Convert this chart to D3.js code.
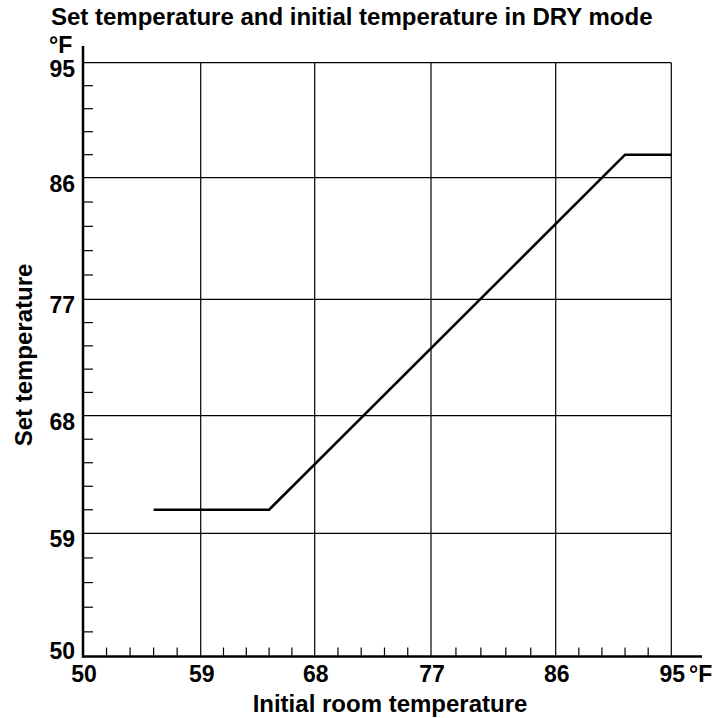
<!DOCTYPE html>
<html>
<head>
<meta charset="utf-8">
<script src="https://cdn.jsdelivr.net/npm/d3@7"></script>
<style>
  body { margin: 0; background: #fff; }
  text { font-family: "Liberation Sans", Arial, Helvetica, sans-serif; font-weight: bold; fill: #000; }
</style>
</head>
<body>
<div id="chart"></div>
<script>
// data (deg F)
var majorTicks = [50, 59, 68, 77, 86, 95];
var initialTemp = [55.4, 64.4, 91.4, 95];
var setTemp = [60.8, 60.8, 87.8, 87.8];

var chartTitle = "Set temperature and initial temperature in DRY mode";
var xTitle = "Initial room temperature";
var yTitle = "Set temperature";
var unit = "°F";

//svg limits
var svgWidth = 727;
var svgHeight = 718;

var svg = d3.select("#chart")
  .append("svg")
  .attr("width", svgWidth)
  .attr("height", svgHeight);

// the printed chart is not evenly spaced, so map each major tick to where it sits
var xScale = d3.scaleLinear()
  .domain(majorTicks)
  .range([83, 200.7, 314.7, 431, 555.7, 671.3]);

var yScale = d3.scaleLinear()
  .domain(majorTicks)
  .range([656.5, 533.3, 415.7, 299.3, 177.7, 62.7]);

// minor ticks every 1.8 F (= 1 C)
var minorTicks = d3.range(0, 26).map(i => +(50 + i * 1.8).toFixed(1))
  .filter(v => majorTicks.indexOf(v) < 0);

var x0 = xScale(50), x1 = xScale(95);
var y0 = yScale(50), y1 = yScale(95);

// grid lines
var grid = svg.append("g");
grid.selectAll(".vgrid")
  .data(majorTicks.slice(1))
  .enter()
  .append("line")
  .attr("x1", d => xScale(d))
  .attr("x2", d => xScale(d))
  .attr("y1", y0)
  .attr("y2", y1)
  .attr("stroke", "#000")
  .attr("stroke-width", 1.2);

grid.selectAll(".hgrid")
  .data(majorTicks.slice(1))
  .enter()
  .append("line")
  .attr("x1", x0)
  .attr("x2", x1)
  .attr("y1", d => yScale(d))
  .attr("y2", d => yScale(d))
  .attr("stroke", "#000")
  .attr("stroke-width", 1.2);

// minor ticks
grid.selectAll(".xminor")
  .data(minorTicks)
  .enter()
  .append("line")
  .attr("x1", d => xScale(d))
  .attr("x2", d => xScale(d))
  .attr("y1", y0)
  .attr("y2", y0 - 9)
  .attr("stroke", "#000")
  .attr("stroke-width", 1.2);

grid.selectAll(".yminor")
  .data(minorTicks)
  .enter()
  .append("line")
  .attr("x1", x0)
  .attr("x2", x0 + 10)
  .attr("y1", d => yScale(d))
  .attr("y2", d => yScale(d))
  .attr("stroke", "#000")
  .attr("stroke-width", 1.2);

// axis lines
svg.append("line")
  .attr("x1", x0).attr("x2", x0)
  .attr("y1", y0 + 1).attr("y2", 46)
  .attr("stroke", "#000")
  .attr("stroke-width", 2.5);

svg.append("line")
  .attr("x1", x0 - 1).attr("x2", 702)
  .attr("y1", y0).attr("y2", y0)
  .attr("stroke", "#000")
  .attr("stroke-width", 2.5);

// the curve
var line = d3.line()
  .x(d => xScale(d[0]))
  .y(d => yScale(d[1]));

svg.append("path")
  .datum(d3.zip(initialTemp, setTemp))
  .attr("d", line)
  .attr("fill", "none")
  .attr("stroke", "#000")
  .attr("stroke-width", 2.6);

// tick labels
svg.selectAll(".xlabel")
  .data(majorTicks)
  .enter()
  .append("text")
  .attr("x", d => xScale(d) + 1)
  .attr("y", 682)
  .attr("text-anchor", "middle")
  .style("font-size", "23px")
  .text(d => d);

svg.selectAll(".ylabel")
  .data(majorTicks)
  .enter()
  .append("text")
  .attr("x", 75)
  .attr("y", d => d === 50 ? yScale(d) + 2 : yScale(d) + 14)
  .attr("text-anchor", "end")
  .style("font-size", "23px")
  .text(d => d);

// units
svg.append("text")
  .attr("x", 689)
  .attr("y", 682)
  .style("font-size", "23px")
  .text(unit);

svg.append("text")
  .attr("x", 49)
  .attr("y", 53)
  .style("font-size", "23px")
  .text(unit);

// titles
svg.append("text")
  .attr("x", 51)
  .attr("y", 25)
  .style("font-size", "24px")
  .text(chartTitle);

svg.append("text")
  .attr("x", 390)
  .attr("y", 712)
  .attr("text-anchor", "middle")
  .style("font-size", "24px")
  .text(xTitle);

svg.append("text")
  .attr("transform", "translate(32, 355) rotate(-90)")
  .attr("text-anchor", "middle")
  .style("font-size", "24px")
  .text(yTitle);
</script>
</body>
</html>
